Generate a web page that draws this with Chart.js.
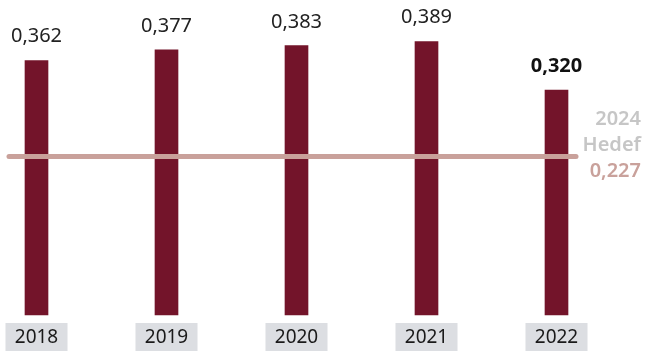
<!DOCTYPE html>
<html>
<head>
<meta charset="utf-8">
<script src="https://cdn.jsdelivr.net/npm/chart.js@4/dist/chart.umd.min.js"></script>
<style>
  html, body { margin: 0; padding: 0; background: #fff; }
  #wrap { width: 646px; height: 353px; }
</style>
</head>
<body>
<div id="wrap"><canvas id="chart" width="646" height="353"></canvas></div>
<script>
const years = ["2018", "2019", "2020", "2021", "2022"];
const values = [0.362, 0.377, 0.383, 0.389, 0.320];
const valueLabels = ["0,362", "0,377", "0,383", "0,389", "0,320"];
const targetValue = 0.227;
const targetLabels = ["2024", "Hedef", "0,227"];

const barColor = "#73142a";
const lineColor = "#c9a19b";
const FONT = "'Noto Sans', sans-serif";

// etiketler, hedef cizgisi ve yil kutulari
const overlay = {
  id: "overlay",
  afterDatasetsDraw(chart) {
    const ctx = chart.ctx;
    const x = chart.scales.x;
    const y = chart.scales.y;
    const meta = chart.getDatasetMeta(0);

    // hedef cizgisi (barlarin ustunde)
    const ty = y.getPixelForValue(targetValue);
    ctx.save();
    ctx.strokeStyle = lineColor;
    ctx.lineWidth = 5;
    ctx.lineCap = "round";
    ctx.beginPath();
    ctx.moveTo(9, ty + 1);
    ctx.lineTo(576, ty + 1);
    ctx.stroke();

    // deger etiketleri
    ctx.textAlign = "center";
    ctx.textBaseline = "alphabetic";
    meta.data.forEach((bar, i) => {
      const last = i === values.length - 1;
      ctx.font = (last ? "bold " : "") + "20px " + FONT;
      ctx.fillStyle = last ? "#111" : "#222";
      ctx.fillText(valueLabels[i], bar.x, bar.y - 18);
    });

    // yil kutulari
    ctx.font = "19px " + FONT;
    ctx.textBaseline = "middle";
    years.forEach((yr, i) => {
      const cx = x.getPixelForValue(i);
      ctx.fillStyle = "#dcdee2";
      ctx.fillRect(cx - 31, 323, 62, 28);
      ctx.fillStyle = "#1a1a1a";
      ctx.fillText(yr, cx, 338);
    });

    // 2024 hedef
    ctx.textAlign = "right";
    ctx.font = "600 20px " + FONT;
    ctx.fillStyle = "#c6c6c6";
    ctx.fillText(targetLabels[0], 641, ty - 36);
    ctx.fillText(targetLabels[1], 641, ty - 10);
    ctx.fillStyle = lineColor;
    ctx.fillText(targetLabels[2], 641, ty + 16);
    ctx.restore();
  }
};

new Chart(document.getElementById("chart"), {
  type: "bar",
  data: {
    labels: years,
    datasets: [{
      data: values,
      backgroundColor: barColor,
      barThickness: 23,
      clip: false
    }]
  },
  options: {
    responsive: false,
    animation: false,
    layout: { padding: { left: 36.5, right: 89.5, top: 0, bottom: 38 } },
    plugins: { legend: { display: false }, tooltip: { enabled: false } },
    scales: {
      x: { display: false, offset: false, grid: { display: false } },
      y: { display: false, min: 0, max: 0.448 }
    }
  },
  plugins: [overlay]
});
</script>
</body>
</html>
